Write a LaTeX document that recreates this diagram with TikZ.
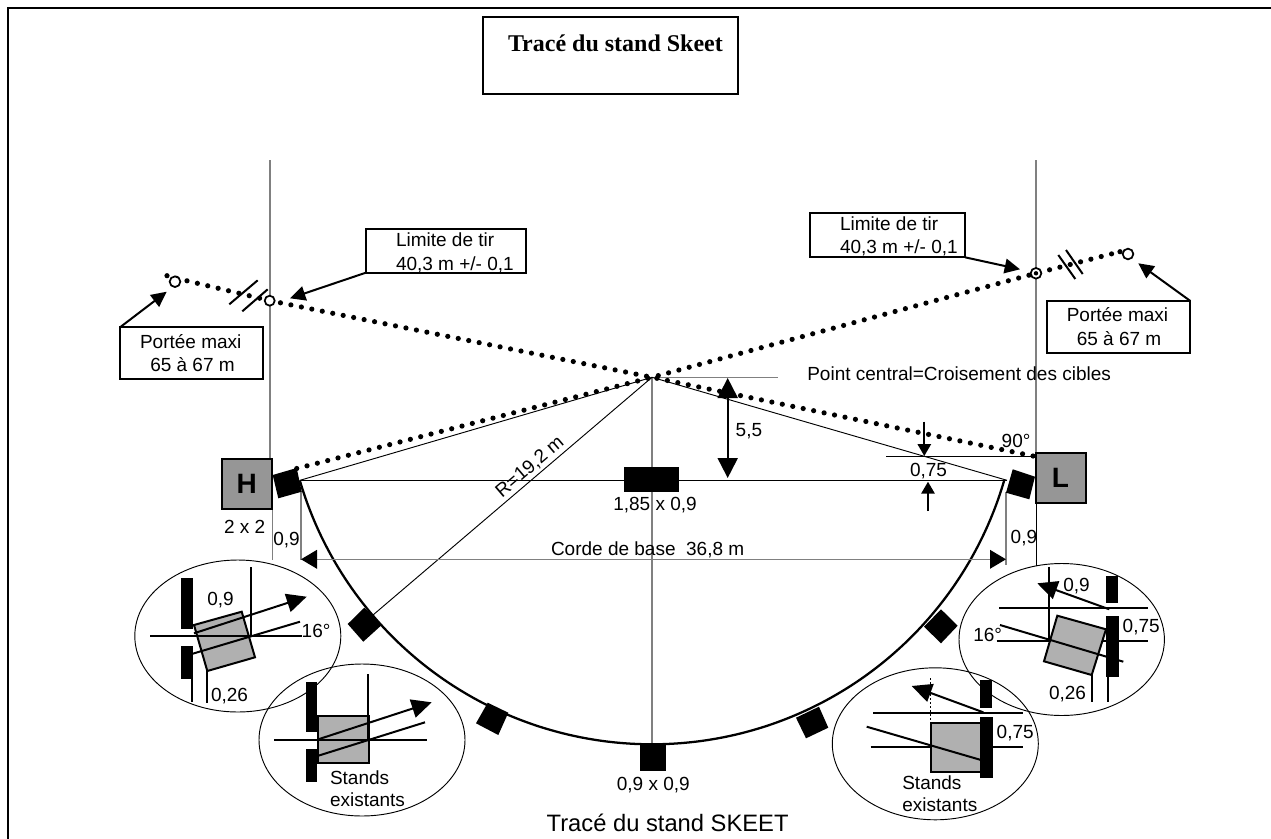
\documentclass[tikz,border=0pt]{standalone}
\usepackage{fontspec}
\setmainfont{Liberation Sans}
\newfontfamily\titlefont{Liberation Serif}
\usetikzlibrary{arrows.meta}
\tikzset{
  txt/.style={inner sep=0pt,outer sep=0pt,anchor=base west,font=\fontsize{14.25}{17}\selectfont},
  txtc/.style={inner sep=0pt,outer sep=0pt,anchor=base,font=\fontsize{14.25}{17}\selectfont},
  labelbox/.style={draw=black,line width=1.5pt,inner sep=0pt,outer sep=0pt},
  frameline/.style={line width=1.7pt},
  thinline/.style={line width=0.7pt,black},
  greyline/.style={line width=1pt,draw=black!50},
  midline/.style={line width=1.5pt,black},
  dots/.style={line width=3.9pt,line cap=round,dash pattern=on 0pt off 8pt},
  ring/.style={line width=1.3pt,draw=black},
  bararrow/.style={line width=1.5pt,-{Triangle[length=11.5pt,width=11pt]}},
  bigarrow/.style={line width=1.5pt,-{Triangle[length=15pt,width=14pt]}},
  greyarrow/.style={line width=1.1pt,draw=black!50,-{Triangle[length=12pt,width=14pt,black]}},
  smallarrow/.style={line width=1.5pt,-{Triangle[length=9pt,width=10pt]}},
  stand/.style={fill=black},
  grey box/.style={fill=black!31,draw=black,line width=1.5pt},
  bigstand/.style={draw=black,fill=black!41,line width=1.5pt,inner sep=0pt,outer sep=0pt,minimum size=37.5pt,font=\fontsize{21}{21}\selectfont\bfseries},
  zoomring/.style={line width=0.7pt,draw=black},
}
\begin{document}
\begin{tikzpicture}[x=0.75pt,y=-0.75pt]
\useasboundingbox (0,0) rectangle (1271,839);
\fill[white] (0,0) rectangle (1271,839);
% frame
\draw[frameline] (8,839) -- (8,8) -- (1271,8);
% title
\node[labelbox,line width=1.1pt,minimum width=191.25pt,minimum height=57.75pt] (titlebox) at (610.5,55.5) {};
\node[txt,font=\fontsize{18}{20}\selectfont\titlefont\bfseries] (title) at (508,51) {Tracé du stand Skeet};
% named points
\coordinate (C) at (652,377.3);
\coordinate (chordL) at (300,480.3);
\coordinate (chordR) at (1007,480.3);
% vertical guides
\draw[greyline] (270,160) -- (270,471);
\draw[greyline] (1036,160) -- (1036,453);
\draw[thinline] (1036,504) -- (1036,566);
\draw[greyline] (272.5,510) -- (272.5,560);
\draw[greyline] (301,491) -- (301,560);
\draw[greyline] (1006,492) -- (1006,565);
\draw[greyline] (C) -- (652,745);
\draw[greyline] (C) -- (777.7,377.3);
% construction lines
\draw[thinline] (chordL) -- (chordR);
\draw[thinline] (C) -- (chordL);
\draw[thinline] (C) -- (chordR);
\draw[thinline] (C) -- (373,615);
\draw[thinline] (886,456.3) -- (1035,456.3);
\draw[midline] (1033,456.3) -- (1036,456.3);
% arc
\draw[line width=1.7pt] plot[domain=16.3:163.7,samples=120,smooth] ({652+367*cos(\x)},{377.3+367*sin(\x)});
% dotted trajectories
\draw[dots] (296.7,468.5) -- (C) -- (1036,273.3) -- (1120,251.7);
\draw[dots] (1033,456) -- (C) -- (270,300.7) -- (167,276);
\fill (167,275.7) circle (2.6);
\fill (1120,251.7) circle (2.6);
% break marks
\draw[midline] (229.3,304.3) -- (257.7,280.3);
\draw[midline] (242.3,311.3) -- (267.7,289.3);
\draw[midline] (1058.3,255) -- (1075.3,279);
\draw[midline] (1066,250) -- (1082.7,274);
% rings
\node[ring,circle,fill=white,inner sep=0pt,minimum size=7.5pt] (limL) at (269.7,300.7) {};
\node[ring,circle,fill=white,inner sep=0pt,minimum size=8pt] (maxL) at (175,281.7) {};
\node[ring,circle,fill=white,inner sep=0pt,minimum size=8pt] (limR) at (1036,273.3) {};
\fill (limR) circle (2.2);
\node[ring,circle,fill=white,inner sep=0pt,minimum size=8pt] (maxR) at (1128,254) {};
% label boxes
\node[labelbox,minimum width=119.8pt,minimum height=32.8pt] (boxLimL) at (445.8,250.8) {};
\node[txt] (t1) at (396,246.7) {Limite de tir};
\node[txt] (t2) at (396,270) {40,3 m +/- 0,1};
\node[labelbox,minimum width=107.5pt,minimum height=39pt] (boxMaxL) at (191.7,353.3) {};
\node[txtc] (t3) at (190.7,348.3) {Portée maxi};
\node[txtc] (t4) at (192.5,371.7) {65 à 67 m};
\node[labelbox,minimum width=116.25pt,minimum height=33pt] (boxLimR) at (887.5,235.3) {};
\node[txt] (t5) at (840,230.7) {Limite de tir};
\node[txt] (t6) at (840,253.3) {40,3 m +/- 0,1};
\node[labelbox,minimum width=107.5pt,minimum height=39pt] (boxMaxR) at (1118.3,326.7) {};
\node[txtc] (t7) at (1117.5,321.7) {Portée maxi};
\node[txtc] (t8) at (1119,345) {65 à 67 m};
% label arrows
\coordinate (tipLimL) at (290,298.3);
\coordinate (tipMaxL) at (166.7,291.7);
\coordinate (tipLimR) at (1020,269.3);
\coordinate (tipMaxR) at (1138.3,263.3);
\draw[bararrow] (boxLimL.south west) -- (tipLimL);
\draw[bararrow] (boxMaxL.north west) -- (tipMaxL);
\draw[bararrow] (boxLimR.south east) -- (tipLimR);
\draw[bararrow] (boxMaxR.north east) -- (tipMaxR);
% stands H and L
\node[bigstand] (H) at (246.7,484.3) {H};
\node[bigstand] (L) at (1060.5,478) {L};
\fill[stand] (272.7,475) -- (296.7,468) -- (301.7,491.7) -- (278.3,498.3) -- cycle;
\fill[stand] (1012.7,469.3) -- (1035,476.7) -- (1029.3,499.3) -- (1006,492.7) -- cycle;
\fill[stand] (364.3,607.7) -- (381.7,625) -- (363.3,641.7) -- (347.7,624) -- cycle;
\fill[stand] (941,609.3) -- (957.7,625.7) -- (941,643.3) -- (924,626.7) -- cycle;
\fill[stand] (487.7,702.7) -- (508.3,712.7) -- (498.3,735) -- (476,723.3) -- cycle;
\fill[stand] (819,706.7) -- (828.3,727.7) -- (806,738.3) -- (796,717.7) -- cycle;
\fill[stand] (640,745) rectangle (665.7,770.7);
\fill[stand] (624,467.3) rectangle (679.3,492.3);
% 5,5 double arrow
\coordinate (a55) at (727.7,378);
\coordinate (b55) at (727.7,478);
\draw[line width=1.5pt,{Triangle[length=15pt,width=15pt]}-{Triangle[length=15pt,width=15pt]}] (a55) -- (b55);
\node[txt] (t55) at (735.7,436.7) {5,5};
% 0,75 arrows
\draw[smallarrow] (924.3,421.7) -- (924.3,456);
\draw[smallarrow] (928,511) -- (928,481.7);
\node[txt] (t075) at (910,476.7) {0,75};
\node[txt] (t90) at (1001.7,447.3) {90°};
\node[txt] (tpc) at (807.3,380.7) {Point central=Croisement des cibles};
\node[txtc] (t185) at (655,510.7) {1,85 x 0,9};
\node[txtc] (t099) at (653.3,790.7) {0,9 x 0,9};
\node[txt,font=\fontsize{17.8}{20}\selectfont] (tbot) at (546.7,831.7) {Tracé du stand SKEET};
\node[txt] (t22) at (224,533) {2 x 2};
\node[txt] (t09l) at (273.3,545.7) {0,9};
\node[txt] (t09r) at (1010.7,543) {0,9};
\node[txt] (tcorde) at (551,555) {Corde de base\ \ 36,8 m};
\node[txtc,rotate=40.5,anchor=center] (tR) at (530,467) {R=19,2 m};
% chord dimension
\coordinate (cl) at (301,559.3);
\coordinate (cr) at (1006,559.3);
\draw[greyarrow] (652,559.3) -- (cl);
\draw[greyarrow] (652,559.3) -- (cr);
% ---- ellipse 1
\draw[zoomring] (237.8,636) ellipse (103 and 76);
\fill[stand] (181.3,578.3) rectangle (192.7,629);
\fill[stand] (181.3,646) rectangle (192.7,679);
\draw[midline] (192,679) -- (192,701.7);
\draw[grey box] (194,625) -- (241.7,611.7) -- (255,657.3) -- (207.3,671) -- cycle;
\draw[midline] (250.7,567.3) -- (250.7,636);
\draw[midline] (150,636) -- (301.7,636);
\draw[midline] (191.7,654) -- (300,621.7);
\draw[bigarrow] (194,633.3) -- (306.7,596.7);
\draw[midline] (206.7,671) -- (206.7,702.7);
\node[txt] (e1a) at (207.3,605) {0,9};
\node[txt] (e1b) at (301.7,637.3) {16°};
\node[txt] (e1c) at (211,701.7) {0,26};
% ---- ellipse 2
\draw[zoomring] (362,740) ellipse (103 and 76);
\fill[stand] (306,682.3) rectangle (317.3,732);
\fill[stand] (306,749) rectangle (317.3,782.3);
\draw[grey box] (318.3,715.7) rectangle (369,763.3);
\draw[midline] (368.3,674) -- (368.3,740);
\draw[midline] (274.3,740) -- (426.7,740);
\draw[midline] (318.3,755.7) -- (425,722.3);
\draw[bigarrow] (318.3,739.3) -- (431.7,702.3);
\node[txt] (e2a) at (330,784) {Stands};
\node[txt] (e2b) at (330,806.7) {existants};
% ---- ellipse 3
\draw[zoomring] (1061.7,639.5) ellipse (102.7 and 76);
\fill[stand] (1106.3,576) rectangle (1118.3,603.3);
\draw[midline] (1049.3,566.7) -- (1049.3,640.7);
\draw[midline] (999.3,608.3) -- (1148.3,608.3);
\draw[midline] (996.7,640.7) -- (1147.7,640.7);
\draw[grey box] (1057.3,615.7) -- (1106,629.3) -- (1091.7,675) -- (1044,661.3) -- cycle;
\fill[stand] (1106.3,615.7) rectangle (1119.3,676.7);
\draw[midline] (1107.7,676.7) -- (1107.7,701.7);
\draw[midline] (1000,625) -- (1123.3,661.7);
\draw[bigarrow] (1109.3,609.3) -- (1037.3,583.3);
\draw[midline] (1092.3,675) -- (1092.3,702.3);
\node[txt] (e3a) at (1063.3,591) {0,9};
\node[txt] (e3b) at (1122.7,632.7) {0,75};
\node[txt] (e3c) at (973.3,641.7) {16°};
\node[txt] (e3d) at (1049,699) {0,26};
% ---- ellipse 4
\draw[zoomring] (935.3,743.8) ellipse (103 and 76);
\fill[stand] (980.3,680) rectangle (991.7,707.7);
\draw[midline] (873.3,712.7) -- (1022.7,712.7);
\draw[midline] (870.7,746.7) -- (1023.3,746.7);
\draw[line width=1pt,dotted] (930.7,678.3) -- (930.7,723.3);
\draw[grey box] (930.7,723.3) rectangle (981,771.7);
\fill[stand] (980.3,717.3) rectangle (993.3,778.3);
\draw[midline] (866.7,726.7) -- (981,760);
\draw[bigarrow] (983.3,712.3) -- (911.7,686);
\node[txt] (e4a) at (996.7,738.3) {0,75};
\node[txt] (e4b) at (902.3,789.3) {Stands};
\node[txt] (e4c) at (902.3,811.7) {existants};
\end{tikzpicture}
\end{document}
